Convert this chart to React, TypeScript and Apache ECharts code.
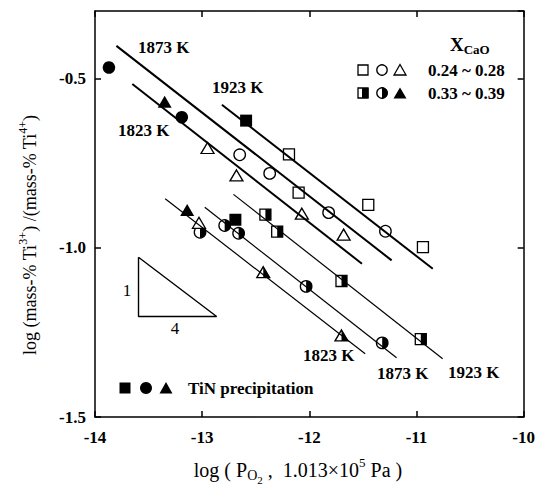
import React, { useEffect, useRef } from "react";
import * as echarts from "echarts";

const FONT = '"Liberation Serif", "Times New Roman", serif';

// axis ranges
const xRange = [-14, -10];
const yRange = [-1.5, -0.3];

// Open symbols: X_CaO 0.24 ~ 0.28
const openSquare = [[-12.19, -0.724], [-12.1, -0.837], [-11.45, -0.873], [-10.94, -0.998]];
const openCircle = [[-12.65, -0.725], [-12.37, -0.78], [-11.82, -0.896], [-11.29, -0.951]];
const openTriangle = [[-12.95, -0.705], [-12.68, -0.786], [-12.07, -0.899], [-11.68, -0.961], [-13.03, -0.926]];

// Half-filled symbols: X_CaO 0.33 ~ 0.39
const halfSquare = [[-12.41, -0.902], [-12.3, -0.952], [-11.7, -1.098], [-10.96, -1.27]];
const halfCircle = [[-13.02, -0.954], [-12.79, -0.934], [-12.66, -0.957], [-12.03, -1.114], [-11.32, -1.281]];
const halfTriangle = [[-12.43, -1.072], [-11.7, -1.259]];

// Solid symbols: TiN precipitation
const solidSquare = [[-12.59, -0.624], [-12.69, -0.917]];
const solidCircle = [[-13.87, -0.467], [-13.19, -0.614]];
const solidTriangle = [[-13.35, -0.568], [-13.14, -0.888]];

// Regression lines (thick: low CaO, thin: high CaO)
const line1923Thick = [[-12.816, -0.577], [-10.848, -1.062]];
const line1873Thick = [[-13.8, -0.403], [-11.232, -1.037]];
const line1823Thick = [[-13.652, -0.516], [-11.509, -1.047]];
const line1923Thin = [[-12.708, -0.842], [-10.756, -1.328]];
const line1873Thin = [[-12.976, -0.88], [-11.186, -1.325]];
const line1823Thin = [[-13.345, -0.855], [-11.479, -1.313]];

// slope 1/4 guide triangle
const slopeTriangle = [[-13.594, -1.028], [-13.594, -1.203], [-12.865, -1.203], [-13.594, -1.028]];

const SEMI = "path://M0,0 A10,10 0 0,1 0,20 Z";
const HALFTRI = "path://M0,0 L10,20 L0,20 Z";

function lineSeries(data: number[][], width: number) {
  return {
    type: "line",
    data,
    symbol: "none",
    silent: true,
    lineStyle: { color: "#000", width },
  };
}

function scatter(data: number[][], symbol: string, size: any, fill: string, border: number, offset?: number[]) {
  return {
    type: "scatter",
    data,
    symbol,
    symbolSize: size,
    symbolOffset: offset || [0, 0],
    silent: true,
    itemStyle: { color: fill, borderColor: "#000", borderWidth: border, opacity: 1 },
  };
}

function halo(data: number[][], symbol: string, size: any) {
  return {
    type: "scatter",
    data,
    symbol,
    symbolSize: size,
    silent: true,
    itemStyle: { color: "#fff", borderWidth: 0, opacity: 1 },
  };
}

function txt(text: string, x: number, y: number, size = 17, weight = "bold", align = "left") {
  return {
    type: "text",
    x,
    y,
    silent: true,
    style: {
      text,
      fill: "#000",
      fontFamily: FONT,
      fontSize: size,
      fontWeight: weight,
      align,
      verticalAlign: "middle",
    },
  };
}

export default function App() {
  const ref = useRef<HTMLDivElement>(null);
  useEffect(() => {
    if (!ref.current) return;
    const chart = echarts.init(ref.current, undefined, { renderer: "svg" });
    const axisFont = { color: "#000", fontFamily: FONT, fontSize: 17, fontWeight: "bold" };
    const lineS = { color: "#000", width: 1.5 };
    const ow = 1.3;
    const sq = 11;
    const ci = 11.5;
    const tri = [13, 11];
    const option: any = {
      animation: false,
      backgroundColor: "#fff",
      grid: { left: 95, right: 9, top: 11, bottom: 71 },
      xAxis: [
        {
          type: "value",
          min: xRange[0],
          max: xRange[1],
          interval: 1,
          position: "bottom",
          axisLine: { show: true, onZero: false, lineStyle: lineS },
          axisTick: { show: true, inside: true, length: 6, lineStyle: lineS },
          axisLabel: { ...axisFont, margin: 12, formatter: (v: number) => String(v) },
          splitLine: { show: false },
        },
        {
          type: "value",
          min: xRange[0],
          max: xRange[1],
          interval: 1,
          position: "top",
          axisLine: { show: true, onZero: false, lineStyle: lineS },
          axisTick: { show: true, inside: true, length: 6, lineStyle: lineS },
          axisLabel: { show: false },
          splitLine: { show: false },
        },
      ],
      yAxis: [
        {
          type: "value",
          min: yRange[0],
          max: yRange[1],
          interval: 0.5,
          position: "left",
          axisLine: { show: true, onZero: false, lineStyle: lineS },
          axisTick: { show: true, inside: true, length: 6, lineStyle: lineS },
          axisLabel: { ...axisFont, margin: 9, showMaxLabel: false, formatter: (v: number) => v.toFixed(1) },
          splitLine: { show: false },
        },
        {
          type: "value",
          min: yRange[0],
          max: yRange[1],
          interval: 0.5,
          position: "right",
          axisLine: { show: true, onZero: false, lineStyle: lineS },
          axisTick: { show: true, inside: true, length: 6, lineStyle: lineS },
          axisLabel: { show: false },
          splitLine: { show: false },
        },
      ],
      series: [
        lineSeries(line1923Thick, 2),
        lineSeries(line1873Thick, 2),
        lineSeries(line1823Thick, 2),
        lineSeries(line1923Thin, 1.2),
        lineSeries(line1873Thin, 1.2),
        lineSeries(line1823Thin, 1.2),
        lineSeries(slopeTriangle, 1.4),
        // white halos (gaps in lines around markers)
        halo([...openSquare, ...halfSquare, ...solidSquare], "rect", sq + 5),
        halo([...openCircle, ...halfCircle, ...solidCircle], "circle", ci + 5),
        halo([...openTriangle, ...halfTriangle, ...solidTriangle], "triangle", [tri[0] + 5, tri[1] + 5]),
        // half-filled
        scatter(halfCircle, "circle", ci, "#fff", ow),
        scatter(halfCircle, SEMI, [ci / 2, ci], "#000", 0, [ci / 4, 0]),
        scatter(halfSquare, "rect", sq, "#fff", ow),
        scatter(halfSquare, "rect", [sq / 2, sq], "#000", 0, [sq / 4, 0]),
        scatter(halfTriangle, "triangle", tri, "#fff", ow),
        scatter(halfTriangle, HALFTRI, [tri[0] / 2, tri[1]], "#000", 0, [tri[0] / 4, 0]),
        // solid
        scatter(solidSquare, "rect", sq + 1, "#000", 0),
        scatter(solidCircle, "circle", ci + 1, "#000", 0),
        scatter(solidTriangle, "triangle", [tri[0] + 1, tri[1] + 1], "#000", 0),
        // open
        scatter(openSquare, "rect", sq, "#fff", ow),
        scatter(openCircle, "circle", ci, "#fff", ow),
        scatter(openTriangle, "triangle", tri, "#fff", ow),
      ],
      graphic: [
        // temperature labels
        txt("1873 K", 138, 47),
        txt("1923 K", 212, 87),
        txt("1823 K", 118, 130),
        txt("1823 K", 303, 355),
        txt("1873 K", 377, 373),
        txt("1923 K", 448, 372),
        // slope triangle labels
        txt("1", 127, 290, 17, "normal", "center"),
        txt("4", 175, 328, 17, "normal", "center"),
        // X_CaO legend
        {
          type: "text",
          x: 450,
          y: 44,
          silent: true,
          style: {
            text: "{x|X}{s|CaO}",
            fill: "#000",
            align: "left",
            verticalAlign: "middle",
            rich: {
              x: { fontFamily: FONT, fontSize: 19, fontWeight: "bold", lineHeight: 24, verticalAlign: "middle" },
              s: { fontFamily: FONT, fontSize: 13, fontWeight: "bold", lineHeight: 13, verticalAlign: "bottom" },
            },
          },
        },
        { type: "rect", silent: true, shape: { x: 358, y: 65, width: 10, height: 10 }, style: { fill: "#fff", stroke: "#000", lineWidth: ow } },
        { type: "circle", silent: true, shape: { cx: 382, cy: 70, r: 5.2 }, style: { fill: "#fff", stroke: "#000", lineWidth: ow } },
        { type: "polygon", silent: true, shape: { points: [[400, 64.5], [406, 75], [394, 75]] }, style: { fill: "#fff", stroke: "#000", lineWidth: ow } },
        txt("0.24 ~ 0.28", 428, 70),
        { type: "rect", silent: true, shape: { x: 358, y: 88, width: 10, height: 10 }, style: { fill: "#fff", stroke: "#000", lineWidth: ow } },
        { type: "rect", silent: true, shape: { x: 362, y: 88, width: 6.5, height: 10 }, style: { fill: "#000" } },
        { type: "circle", silent: true, shape: { cx: 382, cy: 93, r: 5.2 }, style: { fill: "#fff", stroke: "#000", lineWidth: ow } },
        { type: "sector", silent: true, shape: { cx: 382, cy: 93, r0: 0, r: 5.8, startAngle: -Math.PI / 2, endAngle: Math.PI / 2, clockwise: true }, style: { fill: "#000" } },
        { type: "polygon", silent: true, shape: { points: [[400, 87.5], [406.5, 98.5], [393.5, 98.5]] }, style: { fill: "#000" } },
        txt("0.33 ~ 0.39", 428, 93),
        // TiN legend
        { type: "rect", silent: true, shape: { x: 119.5, y: 382.5, width: 11, height: 11 }, style: { fill: "#000" } },
        { type: "circle", silent: true, shape: { cx: 146, cy: 388, r: 6 }, style: { fill: "#000" } },
        { type: "polygon", silent: true, shape: { points: [[166, 382], [172.5, 393.5], [159.5, 393.5]] }, style: { fill: "#000" } },
        txt("TiN precipitation", 188, 388),
        // x axis title
        {
          type: "text",
          x: 298,
          y: 470,
          silent: true,
          style: {
            text: "{a|log ( P}{b|O}{c|2}{a| ,  1.013×10}{d|5}{a| Pa )}",
            fill: "#000",
            align: "center",
            verticalAlign: "middle",
            rich: {
              a: { fontFamily: FONT, fontSize: 20, lineHeight: 30, verticalAlign: "middle" },
              b: { fontFamily: FONT, fontSize: 14, lineHeight: 14, verticalAlign: "bottom", padding: [0, 0, 3, 0] },
              c: { fontFamily: FONT, fontSize: 11, lineHeight: 11, verticalAlign: "bottom" },
              d: { fontFamily: FONT, fontSize: 13, lineHeight: 13, verticalAlign: "top", padding: [1, 0, 0, 0] },
            },
          },
        },
        // y axis title
        {
          type: "text",
          x: 28,
          y: 235,
          rotation: Math.PI / 2,
          silent: true,
          style: {
            text: "{a|log (mass-% Ti}{s|3+}{a|) /(mass-% Ti}{s|4+}{a|)}",
            fill: "#000",
            align: "center",
            verticalAlign: "middle",
            rich: {
              a: { fontFamily: FONT, fontSize: 18, lineHeight: 22, verticalAlign: "bottom" },
              s: { fontFamily: FONT, fontSize: 12, lineHeight: 12, verticalAlign: "top" },
            },
          },
        },
      ],
    };
    chart.setOption(option);
    return () => chart.dispose();
  }, []);
  return (
    <div
      ref={ref}
      style={{ position: "absolute", left: 0, top: 0, width: 538, height: 488, background: "#fff" }}
    />
  );
}
